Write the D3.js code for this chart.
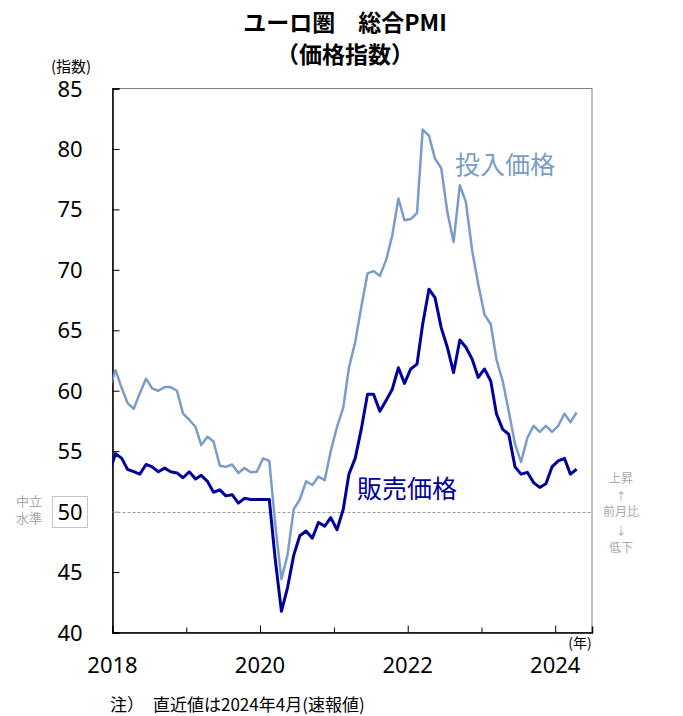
<!DOCTYPE html>
<html>
<head>
<meta charset="utf-8">
<script src="https://cdn.jsdelivr.net/npm/d3@7"></script>
<style>
  body { margin: 0; background: #fff; }
  svg { display: block; }
</style>
</head>
<body>
<div id="chart"></div>
<script>
const width = 683;
const height = 716;

// monthly data, Dec 2017 .. Apr 2024 (first point sits just outside the axis)
const startMonth = [2017, 11];
const inputPrice = [
	60.1,
	61.7, 60.2, 59.0, 58.5, 59.8, 61.0, 60.2, 60.0, 60.3, 60.3, 60.0, 58.1,
	57.6, 57.0, 55.5, 56.2, 55.8, 53.8, 53.7, 53.9, 53.2, 53.6, 53.25, 53.3,
	54.4, 54.2, 49.0, 44.4, 46.4, 50.2, 51.0, 52.5, 52.2, 52.9, 52.6, 55.0,
	57.0, 58.6, 61.9, 64.0, 66.9, 69.7, 69.9, 69.5, 70.8, 72.8, 75.9, 74.1,
	74.2, 74.7, 81.6, 81.1, 79.2, 78.4, 74.8, 72.3, 77.0, 75.6, 71.6, 68.8,
	66.3, 65.5, 62.6, 60.8, 58.3, 55.6, 54.1, 56.1, 57.1, 56.6, 57.1, 56.6,
	57.1, 58.1, 57.4, 58.2,
];
const outputPrice = [
	53.2,
	54.8, 54.4, 53.5, 53.3, 53.1, 53.9, 53.7, 53.3, 53.6, 53.3, 53.2, 52.8,
	53.3, 52.7, 53.0, 52.5, 51.6, 51.8, 51.3, 51.4, 50.7, 51.1, 51.0, 51.0,
	51.0, 51.0, 46.1, 41.75, 43.7, 46.4, 48.0, 48.4, 47.8, 49.1, 48.8, 49.5,
	48.5, 50.2, 53.1, 54.4, 56.8, 59.7, 59.7, 58.3, 59.2, 60.1, 61.9, 60.6,
	61.8, 62.2, 65.5, 68.4, 67.7, 65.2, 63.6, 61.5, 64.2, 63.6, 62.6, 61.1,
	61.8, 60.8, 58.1, 56.8, 56.4, 53.7, 53.1, 53.25, 52.4, 52.0, 52.3, 53.7,
	54.2, 54.4, 53.1, 53.5,
];
const months = inputPrice.map((d, i) => new Date(startMonth[0], startMonth[1] + i, 16));

const yTicks = [40, 45, 50, 55, 60, 65, 70, 75, 80, 85];
const xTickYears = [2018, 2019, 2020, 2021, 2022, 2023, 2024];
const xLabelYears = [2018, 2020, 2022, 2024];
const neutralLevel = 50;

const titleLines = ["ユーロ圏　総合PMI", "（価格指数）"];
const seriesNames = ["投入価格", "販売価格"];
const COLORS = { input: "#7b9cc8", output: "#00009c", grid: "#9a9a9a", note: "#a9a9a9" };

const margin = { left: 112.5, right: 592, top: 88.5, bottom: 632.5 };

const svg = d3
	.select("#chart")
	.append("svg")
	.attr("width", width)
	.attr("height", height)
	.style("font-family", "'Noto Sans', 'Noto Sans CJK JP', sans-serif");

const x = d3
	.scaleTime()
	.domain([new Date(2018, 0, 1), new Date(2024, 6, 1)])
	.range([margin.left, margin.right]);

const y = d3.scaleLinear().domain([40, 85]).range([margin.bottom, margin.top]);

// title
svg
	.selectAll(".title")
	.data(titleLines)
	.join("text")
	.attr("class", "title")
	.attr("x", 345)
	.attr("y", (d, i) => 31 + i * 32)
	.attr("text-anchor", "middle")
	.attr("font-family", "'Noto Sans CJK JP', sans-serif")
	.attr("font-weight", "bold")
	.attr("font-size", "23px")
	.text((d) => d);

svg
	.append("text")
	.attr("x", 71)
	.attr("y", 72)
	.attr("text-anchor", "middle")
	.attr("font-family", "'Noto Sans CJK JP', sans-serif")
	.attr("font-size", "15px")
	.text("(指数)");

// frame: grey top / right, black left / bottom
svg
	.append("rect")
	.attr("x", margin.left)
	.attr("y", margin.top)
	.attr("width", margin.right - margin.left)
	.attr("height", margin.bottom - margin.top)
	.style("fill", "none")
	.style("stroke", "#808080")
	.style("stroke-width", 1);

// neutral line
svg
	.append("line")
	.attr("x1", margin.left)
	.attr("x2", margin.right)
	.attr("y1", Math.round(y(neutralLevel)) + 0.5)
	.attr("y2", Math.round(y(neutralLevel)) + 0.5)
	.style("stroke", COLORS.grid)
	.style("stroke-width", 1)
	.style("stroke-dasharray", "3,2");

// y axis
const yAxis = svg
	.append("g")
	.attr("transform", `translate(${margin.left},0)`)
	.call(d3.axisRight(y).tickValues(yTicks).tickSize(7).tickFormat(""));
yAxis.select(".domain").style("stroke", "#000").style("stroke-width", 1.5);
yAxis.selectAll(".tick line")
	.style("stroke", (d) => (d === neutralLevel ? COLORS.grid : "#000"));

svg
	.selectAll(".ylabel")
	.data(yTicks)
	.join("text")
	.attr("class", "ylabel")
	.attr("x", 70)
	.attr("y", (d) => y(d) + 8)
	.attr("text-anchor", "middle")
	.attr("font-size", "22px")
	.text((d) => d);

// dotted box round the neutral value
svg
	.append("rect")
	.attr("x", 52.5)
	.attr("y", 496.5)
	.attr("width", 35)
	.attr("height", 31)
	.style("fill", "none")
	.style("stroke", "#8c8c8c")
	.style("stroke-width", 1)
	.style("stroke-dasharray", "1,1");

svg
	.selectAll(".neutral")
	.data(["中立", "水準"])
	.join("text")
	.attr("class", "neutral")
	.attr("x", 29)
	.attr("y", (d, i) => 506 + i * 17)
	.attr("text-anchor", "middle")
	.attr("font-family", "'Noto Sans CJK JP', sans-serif")
	.attr("font-size", "13px")
	.style("fill", COLORS.note)
	.text((d) => d);

// x axis
const xAxis = svg
	.append("g")
	.attr("transform", `translate(0,${margin.bottom})`)
	.call(
		d3
			.axisTop(x)
			.tickValues(xTickYears.map((yr) => new Date(yr, 0, 1)))
			.tickSize(6)
			.tickFormat("")
	);
xAxis.select(".domain").style("stroke", "#000").style("stroke-width", 1.5);
xAxis.selectAll(".tick line").attr("y2", (d) => (d.getFullYear() % 2 ? -5 : -7));

svg
	.selectAll(".xlabel")
	.data(xLabelYears)
	.join("text")
	.attr("class", "xlabel")
	.attr("x", (d) => x(new Date(d, 0, 1)))
	.attr("y", 673)
	.attr("text-anchor", "middle")
	.attr("font-size", "22px")
	.text((d) => d);

svg
	.append("text")
	.attr("x", 580)
	.attr("y", 648)
	.attr("text-anchor", "middle")
	.attr("font-family", "'Noto Sans CJK JP', sans-serif")
	.attr("font-size", "14px")
	.text("(年)");

// lines
svg
	.append("clipPath")
	.attr("id", "plot-clip")
	.append("rect")
	.attr("x", margin.left)
	.attr("y", margin.top - 5)
	.attr("width", margin.right - margin.left)
	.attr("height", margin.bottom - margin.top + 10);

const line = d3
	.line()
	.x((d, i) => x(months[i]))
	.y((d) => y(d));

svg
	.append("path")
	.datum(inputPrice)
	.attr("clip-path", "url(#plot-clip)")
	.attr("d", line)
	.style("fill", "none")
	.style("stroke", COLORS.input)
	.style("stroke-width", 2.5)
	.style("stroke-linejoin", "round");

svg
	.append("path")
	.datum(outputPrice)
	.attr("clip-path", "url(#plot-clip)")
	.attr("d", line)
	.style("fill", "none")
	.style("stroke", COLORS.output)
	.style("stroke-width", 3)
	.style("stroke-linejoin", "round");

// series labels
svg
	.append("text")
	.attr("x", 455)
	.attr("y", 174)
	.attr("font-family", "'Noto Sans CJK JP', sans-serif")
	.attr("font-size", "25px")
	.style("fill", COLORS.input)
	.text(seriesNames[0]);

svg
	.append("text")
	.attr("x", 357)
	.attr("y", 498)
	.attr("font-family", "'Noto Sans CJK JP', sans-serif")
	.attr("font-size", "25px")
	.style("fill", COLORS.output)
	.text(seriesNames[1]);

// right note
svg
	.selectAll(".updown")
	.data(["上昇", "↑", "前月比", "↓", "低下"])
	.join("text")
	.attr("class", "updown")
	.attr("x", 621)
	.attr("y", (d, i) => [483, 501, 516, 535, 552][i])
	.attr("text-anchor", "middle")
	.attr("font-family", "'Noto Sans CJK JP', sans-serif")
	.attr("font-size", (d) => (d.length === 1 ? "11px" : "12px"))
	.style("fill", COLORS.note)
	.text((d) => d);

// footnote
svg
	.selectAll(".note")
	.data(["注）", "直近値は2024年4月(速報値)"])
	.join("text")
	.attr("class", "note")
	.attr("x", (d, i) => [110, 153][i])
	.attr("y", 711)
	.attr("font-family", "'Noto Sans CJK JP', sans-serif")
	.attr("font-size", "17px")
	.text((d) => d);
</script>
</body>
</html>
